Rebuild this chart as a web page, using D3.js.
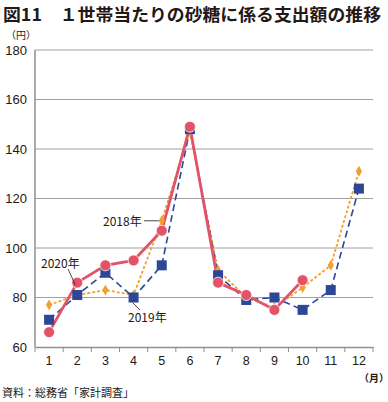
<!DOCTYPE html>
<html>
<head>
<meta charset="utf-8">
<script src="https://cdn.jsdelivr.net/npm/d3@7/dist/d3.min.js"></script>
<style>
  body { margin: 0; background: #fff; }
  svg { display: block; font-family: "Noto Sans CJK JP", "Noto Sans", sans-serif; }
</style>
</head>
<body>
<div id="chart"></div>
<script>
// Data: monthly sugar spending per household (yen)
const months = ["1", "2", "3", "4", "5", "6", "7", "8", "9", "10", "11", "12"];
const yTicks = [60, 80, 100, 120, 140, 160, 180];
const values2018 = [77, 81, 83, 81, 111, 147, 91, 80, 76, 84, 93, 131];
const values2019 = [71, 81, 90, 80, 93, 148, 89, 79, 80, 75, 83, 124];
const values2020 = [66, 86, 93, 95, 107, 149, 86, 81, 75, 87, null, null];

const W = 388, H = 402;
const margin = { top: 50, left: 35, right: 15, bottom: 55 };

const svg = d3.select("#chart").append("svg")
    .attr("width", W)
    .attr("height", H);

const x = d3.scaleBand().domain(months).range([margin.left, W - margin.right]);
const y = d3.scaleLinear().domain([60, 180]).range([H - margin.bottom, margin.top]);
const cx = d => x(d) + x.bandwidth() / 2;

// Title
svg.append("text")
    .attr("x", 3).attr("y", 21)
    .attr("font-size", "17px").attr("font-weight", "700").attr("fill", "#231815")
    .attr("textLength", 378).attr("lengthAdjust", "spacingAndGlyphs")
    .text("図11\u3000１世帯当たりの砂糖に係る支出額の推移");

svg.append("text")
    .attr("x", 6).attr("y", 39)
    .attr("font-size", "10px").attr("fill", "#231815")
    .text("（円）");

// Grid lines
svg.append("g").selectAll("line")
    .data(yTicks.slice(1))
    .enter().append("line")
    .attr("x1", margin.left).attr("x2", W - margin.right)
    .attr("y1", d => y(d)).attr("y2", d => y(d))
    .attr("stroke", "#a0a0a0").attr("stroke-width", 1);

// Y axis labels
svg.append("g").selectAll("text")
    .data(yTicks)
    .enter().append("text")
    .attr("x", 27).attr("y", d => y(d) + 4.5)
    .attr("text-anchor", "end")
    .attr("font-size", "13px").attr("fill", "#231815")
    .attr("font-family", "Arial, 'Liberation Sans', sans-serif")
    .text(d => d);

// Left axis line
svg.append("line")
    .attr("x1", margin.left).attr("x2", margin.left)
    .attr("y1", y(180)).attr("y2", y(60))
    .attr("stroke", "#909090").attr("stroke-width", 1.5);

// X axis
const xAxis = svg.append("g")
    .attr("transform", `translate(0,${y(60)})`)
    .call(d3.axisBottom(x).tickSize(0).tickPadding(9));
xAxis.select(".domain").attr("stroke", "#909090").attr("stroke-width", 1.5);
xAxis.selectAll("text")
    .attr("font-size", "12.5px").attr("fill", "#231815")
    .attr("font-family", "Arial, 'Liberation Sans', sans-serif");

// Ticks at band boundaries
const bounds = months.map(m => x(m)).concat([W - margin.right]);
svg.append("g").selectAll("line")
    .data(bounds)
    .enter().append("line")
    .attr("x1", d => d).attr("x2", d => d)
    .attr("y1", y(60)).attr("y2", y(60) + 5)
    .attr("stroke", "#909090").attr("stroke-width", 1);

svg.append("text")
    .attr("x", 359).attr("y", 382)
    .attr("font-size", "10px").attr("font-weight", "700").attr("fill", "#231815")
    .text("（月）");

// Lines
const line = d3.line()
    .defined(d => d[1] != null)
    .x(d => cx(d[0]))
    .y(d => y(d[1]));

const series = [
    { vals: values2018, color: "#f0a030", dash: "3,2", width: 1.8 },
    { vals: values2019, color: "#2b4796", dash: "7,4", width: 1.6 },
    { vals: values2020, color: "#e25368", dash: null, width: 2.8 }
];

series.forEach(s => {
    svg.append("path")
        .datum(months.map((m, i) => [m, s.vals[i]]))
        .attr("fill", "none")
        .attr("stroke", s.color)
        .attr("stroke-width", s.width)
        .attr("stroke-dasharray", s.dash)
        .attr("d", line);
});

// Markers 2018: diamonds
svg.append("g").selectAll("path")
    .data(months.map((m, i) => [m, values2018[i]]))
    .enter().append("path")
    .attr("d", d3.symbol(d3.symbolDiamond, 34))
    .attr("transform", d => `translate(${cx(d[0])},${y(d[1])})`)
    .attr("fill", "#f0a030");

// Markers 2019: squares
svg.append("g").selectAll("rect")
    .data(months.map((m, i) => [m, values2019[i]]))
    .enter().append("rect")
    .attr("x", d => cx(d[0]) - 5).attr("y", d => y(d[1]) - 5)
    .attr("width", 10).attr("height", 10)
    .attr("fill", "#2b4796");

// Markers 2020: circles
svg.append("g").selectAll("circle")
    .data(months.map((m, i) => [m, values2020[i]]).filter(d => d[1] != null))
    .enter().append("circle")
    .attr("cx", d => cx(d[0])).attr("cy", d => y(d[1]))
    .attr("r", 5.5)
    .attr("fill", "#e25368")
    .attr("stroke", "#fff").attr("stroke-width", 0.8);

// Series labels with leader lines
const labelFont = "12px";
svg.append("text")
    .attr("x", 103).attr("y", 226)
    .attr("font-size", labelFont).attr("fill", "#231815")
    .text("2018年");
svg.append("line")
    .attr("x1", 144).attr("x2", cx("5") - 3)
    .attr("y1", y(values2018[4])).attr("y2", y(values2018[4]))
    .attr("stroke", "#231815").attr("stroke-width", 0.8);

svg.append("text")
    .attr("x", 41).attr("y", 268)
    .attr("font-size", labelFont).attr("fill", "#231815")
    .text("2020年");
svg.append("line")
    .attr("x1", 68).attr("y1", 269)
    .attr("x2", cx("2") - 2).attr("y2", y(values2020[1]) + 2)
    .attr("stroke", "#231815").attr("stroke-width", 0.8);

svg.append("text")
    .attr("x", 128).attr("y", 322)
    .attr("font-size", labelFont).attr("fill", "#231815")
    .text("2019年");
svg.append("line")
    .attr("x1", 140).attr("y1", 310)
    .attr("x2", cx("4") - 1).attr("y2", y(values2019[3]) + 5)
    .attr("stroke", "#231815").attr("stroke-width", 0.8);

// Source
svg.append("text")
    .attr("x", 2).attr("y", 397)
    .attr("font-size", "11px").attr("fill", "#231815")
    .text("資料：総務省「家計調査」");
</script>
</body>
</html>
